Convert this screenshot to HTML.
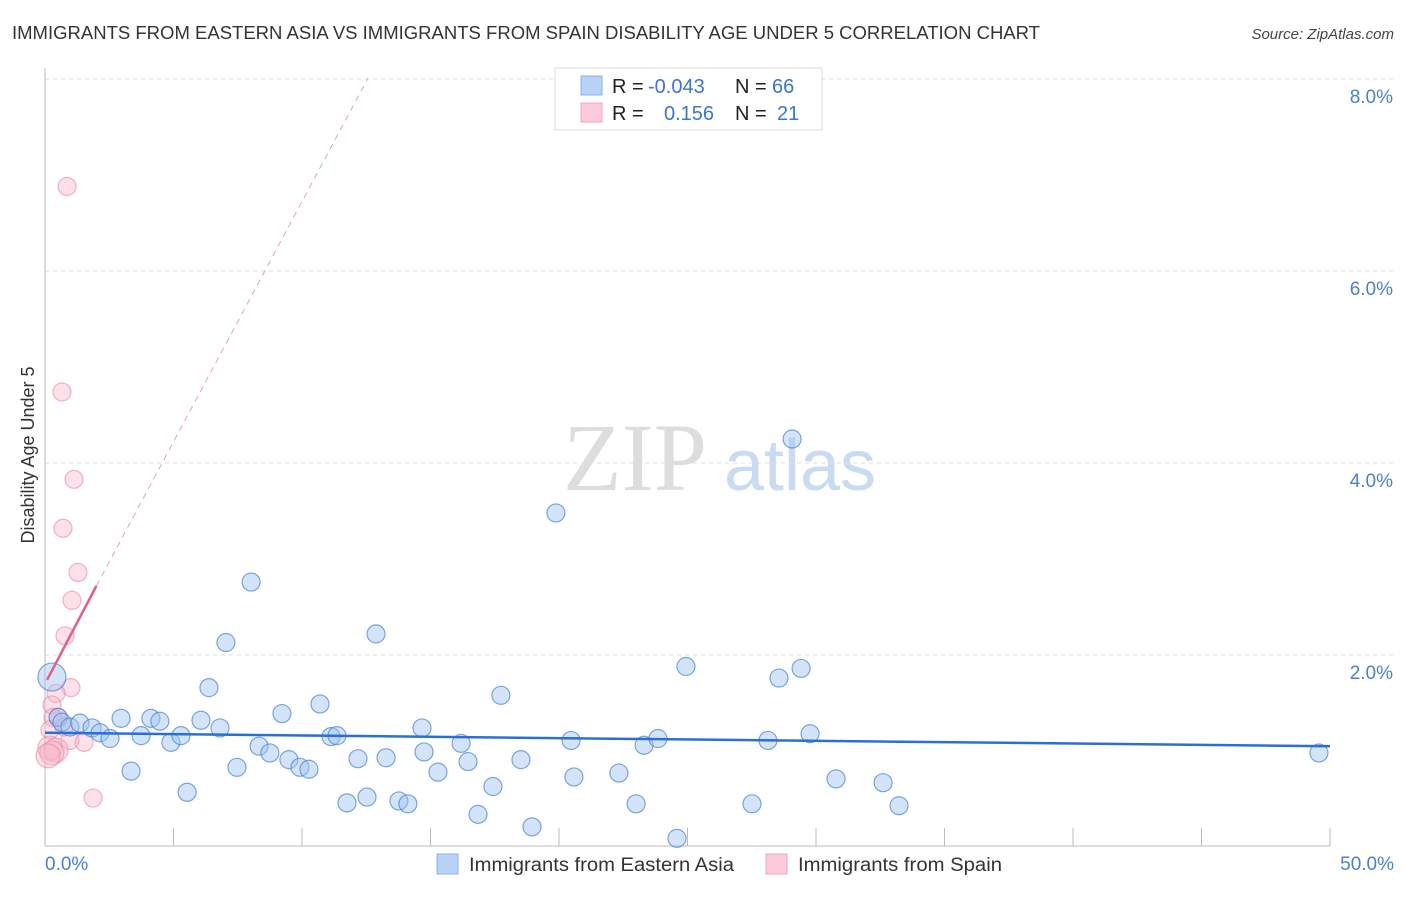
<!DOCTYPE html>
<html><head><meta charset="utf-8"><style>
body{margin:0;background:#fff;font-family:"Liberation Sans",sans-serif;}
svg text{font-family:"Liberation Sans",sans-serif;}
</style></head><body>
<svg id="chart" width="1406" height="892" xmlns="http://www.w3.org/2000/svg">
<text x="12" y="39" font-size="18" fill="#333" textLength="1028" lengthAdjust="spacingAndGlyphs">IMMIGRANTS FROM EASTERN ASIA VS IMMIGRANTS FROM SPAIN DISABILITY AGE UNDER 5 CORRELATION CHART</text>
<text x="1394" y="39" font-size="15" fill="#444" text-anchor="end" font-style="italic">Source: ZipAtlas.com</text>
<g>
<text x="635" y="490" font-size="96" fill="#ddd" text-anchor="middle" font-family="Liberation Serif" style="font-family:'Liberation Serif',serif">ZIP</text>
<text x="800" y="490" font-size="72" fill="#c9daf3" text-anchor="middle">atlas</text>
</g>
<g id="grid"></g>
<g id="axes"></g>
<g id="marks"></g>
<text transform="translate(34,455) rotate(-90)" font-size="18" fill="#333" text-anchor="middle">Disability Age Under 5</text>
<g>
<rect x="555" y="68" width="267" height="62" fill="#fff" stroke="#ddd"/>
<rect x="581" y="76" width="21" height="19" fill="#b8d3f5" stroke="#8ab2e8"/>
<rect x="581" y="103" width="21" height="19" fill="#fccbd9" stroke="#f2a5bd"/>
<text x="612" y="93" font-size="20" fill="#222">R = <tspan fill="#3b74d1" x="648">-0.043</tspan><tspan x="735">N = </tspan><tspan fill="#3b74d1" x="772">66</tspan></text>
<text x="612" y="120" font-size="20" fill="#222">R = <tspan fill="#3b74d1" x="664">0.156</tspan><tspan x="735">N = </tspan><tspan fill="#3b74d1" x="777">21</tspan></text>
</g>
<g>
<rect x="437" y="854" width="21" height="20" fill="#b8d3f5" stroke="#8ab2e8"/>
<text x="469" y="871" font-size="19" fill="#333" textLength="265" lengthAdjust="spacingAndGlyphs">Immigrants from Eastern Asia</text>
<rect x="766" y="854" width="21" height="20" fill="#fccbd9" stroke="#f2a5bd"/>
<text x="798" y="871" font-size="19" fill="#333" textLength="204" lengthAdjust="spacingAndGlyphs">Immigrants from Spain</text>
</g>
</svg>
<script>
const blueX=[0.27,0.51,0.66,0.97,1.36,1.83,2.14,2.53,2.96,3.35,3.74,4.12,4.47,4.90,5.29,5.53,6.07,6.38,6.81,7.04,7.47,8.02,8.33,8.75,9.22,9.49,9.92,10.27,10.70,11.13,11.36,11.75,12.18,12.53,12.88,13.27,13.77,14.12,14.67,14.75,15.29,16.19,16.46,16.85,17.43,17.74,18.52,18.95,19.88,20.47,20.58,22.33,23.00,23.31,23.85,24.59,24.94,27.51,28.13,28.56,29.07,29.42,29.77,30.78,32.61,33.23,49.57];
const blueY=[1.77,1.35,1.30,1.25,1.29,1.24,1.19,1.13,1.34,0.79,1.16,1.34,1.31,1.09,1.16,0.57,1.32,1.66,1.24,2.13,0.83,2.76,1.05,0.98,1.39,0.91,0.83,0.81,1.49,1.15,1.16,0.46,0.92,0.52,2.22,0.93,0.48,0.45,1.24,0.99,0.78,1.08,0.89,0.34,0.63,1.58,0.91,0.21,3.48,1.11,0.73,0.77,0.45,1.06,1.13,0.09,1.88,0.45,1.11,1.76,4.25,1.86,1.18,0.71,0.67,0.43,0.98];
const pinkX=[0.86,0.66,1.13,0.70,1.28,1.05,0.78,1.01,0.43,0.27,0.31,0.51,0.19,0.74,0.97,1.52,0.19,0.43,0.27,0.12,1.87];
const pinkY=[6.88,4.74,3.83,3.32,2.86,2.57,2.20,1.66,1.60,1.48,1.35,1.35,1.22,1.25,1.11,1.09,1.03,1.01,0.98,0.95,0.51];
const yTicks=[2,4,6,8];
const yTickLabels=["2.0%","4.0%","6.0%","8.0%"];
const xTicks=[0,5,10,15,20,25,30,35,40,45,50];
const blueTrend=[[0,1.19],[50,1.05]];
const pinkTrendSolid=[[0.08,1.74],[2.0,2.72]];
const pinkTrendDash=[[2.0,2.72],[12.57,8.01]];

const NS="http://www.w3.org/2000/svg";
const X=v=>45+v*25.7, Y=v=>847-v*96;
function mk(tag,attrs,parent){const e=document.createElementNS(NS,tag);for(const k in attrs)e.setAttribute(k,attrs[k]);parent.appendChild(e);return e;}
const grid=document.getElementById('grid'),axes=document.getElementById('axes'),marks=document.getElementById('marks');
yTicks.forEach((t,i)=>{
  const l=mk('line',{x1:45,x2:1394,y1:Y(t),y2:Y(t),stroke:'#ddd','stroke-dasharray':'4,4'},grid);
  
  
  const tx=mk('text',{x:1393,y:Y(t)+24,'font-size':19,fill:'#4a7fd6','text-anchor':'end'},axes);
  tx.textContent=yTickLabels[i];
  
  
});
const ax=mk('line',{x1:45,x2:45,y1:68,y2:846,stroke:'#bbb'},axes);


const bx=mk('line',{x1:45,x2:1330,y1:846,y2:846,stroke:'#bbb'},axes);


xTicks.forEach(t=>{const l=mk('line',{x1:X(t),x2:X(t),y1:828,y2:846,stroke:'#bbb'},axes);
  
  });
const x0=mk('text',{x:45,y:870,'font-size':19,fill:'#4a7fd6'},axes);x0.textContent='0.0%';


const x1=mk('text',{x:1394,y:870,'font-size':19,fill:'#4a7fd6','text-anchor':'end'},axes);x1.textContent='50.0%';



pinkX.forEach((v,i)=>{const c=mk('circle',{cx:X(v),cy:Y(pinkY[i]),r:(v<0.5&&pinkY[i]<1.1)?12:9,fill:'rgba(248,180,200,0.4)',stroke:'rgba(236,130,160,0.6)','stroke-width':1.2},marks);
  
  });
blueX.forEach((v,i)=>{const c=mk('circle',{cx:X(v),cy:Y(blueY[i]),r:i===0?14:9,fill:'rgba(160,196,240,0.45)',stroke:'rgba(70,130,215,0.7)','stroke-width':1.2},marks);
  
  });
const bt=mk('line',{x1:X(blueTrend[0][0]),y1:Y(blueTrend[0][1]),x2:X(blueTrend[1][0]),y2:Y(blueTrend[1][1]),stroke:'#2a6fd6','stroke-width':2.5},marks);


const ps=mk('line',{x1:X(pinkTrendSolid[0][0]),y1:Y(pinkTrendSolid[0][1]),x2:X(pinkTrendSolid[1][0]),y2:Y(pinkTrendSolid[1][1]),stroke:'#e0608a','stroke-width':2.5},marks);


const pd=mk('line',{x1:X(pinkTrendDash[0][0]),y1:Y(pinkTrendDash[0][1]),x2:X(pinkTrendDash[1][0]),y2:Y(pinkTrendDash[1][1]),stroke:'#e8a0b8','stroke-width':1,'stroke-dasharray':'6,5'},marks);


</script>
</body></html>
